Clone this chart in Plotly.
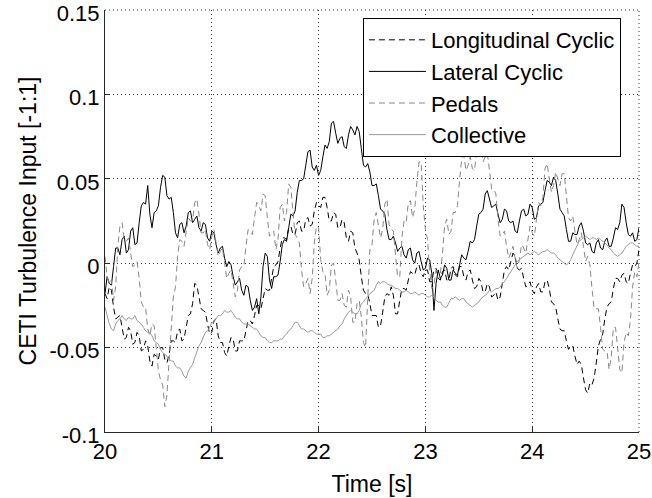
import plotly.graph_objects as go

# Sample times (uniform 0.02 s sampling grid of the recorded signals)
TIME = [round(20 + 0.02 * i, 2) for i in range(251)]

LONGITUDINAL = [
    -0.018, -0.021, -0.014, -0.016, -0.026, -0.033, -0.032, -0.031, -0.038, -0.045,
    -0.044, -0.038, -0.040, -0.048, -0.047, -0.041, -0.043, -0.052, -0.051, -0.046,
    -0.049, -0.058, -0.061, -0.054, -0.055, -0.057, -0.050, -0.050, -0.057, -0.059,
    -0.054, -0.046, -0.046, -0.047, -0.040, -0.039, -0.046, -0.045, -0.038, -0.031,
    -0.030, -0.024, -0.012, -0.013, -0.020, -0.027, -0.028, -0.029, -0.036, -0.042,
    -0.041, -0.034, -0.033, -0.043, -0.047, -0.047, -0.053, -0.055, -0.049, -0.044,
    -0.045, -0.052, -0.052, -0.046, -0.046, -0.046, -0.040, -0.034, -0.034, -0.036,
    -0.031, -0.025, -0.025, -0.027, -0.021, -0.015, -0.016, -0.016, -0.009, -0.002,
    -0.001, 0.001, 0.009, 0.015, 0.015, 0.014, 0.021, 0.022, 0.017, 0.017,
    0.024, 0.025, 0.019, 0.019, 0.026, 0.027, 0.022, 0.023, 0.031, 0.036,
    0.034, 0.033, 0.039, 0.039, 0.033, 0.025, 0.025, 0.030, 0.029, 0.021,
    0.021, 0.026, 0.024, 0.015, 0.013, 0.019, 0.018, 0.009, 0.006, 0.002,
    -0.008, -0.016, -0.018, -0.018, -0.024, -0.031, -0.031, -0.031, -0.038, -0.037,
    -0.029, -0.020, -0.018, -0.019, -0.014, -0.019, -0.030, -0.030, -0.022, -0.015,
    -0.015, -0.016, -0.010, -0.005, -0.006, -0.007, -0.002, -0.001, -0.006, -0.008,
    -0.004, -0.004, -0.011, -0.011, -0.004, -0.003, -0.009, -0.010, -0.005, -0.004,
    -0.010, -0.010, -0.003, -0.002, -0.007, -0.008, -0.002, -0.002, -0.008, -0.010,
    -0.005, -0.004, -0.010, -0.015, -0.014, -0.009, -0.011, -0.017, -0.017, -0.012,
    -0.014, -0.020, -0.019, -0.017, -0.022, -0.020, -0.012, -0.004, -0.002, -0.004,
    0.001, 0.006, 0.004, -0.003, -0.004, -0.003, -0.009, -0.014, -0.013, -0.011,
    -0.016, -0.018, -0.014, -0.012, -0.017, -0.017, -0.011, -0.010, -0.015, -0.023,
    -0.024, -0.026, -0.033, -0.039, -0.040, -0.040, -0.046, -0.051, -0.050, -0.049,
    -0.055, -0.060, -0.058, -0.060, -0.068, -0.075, -0.077, -0.071, -0.072, -0.068,
    -0.059, -0.049, -0.045, -0.042, -0.033, -0.026, -0.024, -0.023, -0.015, -0.009,
    -0.009, -0.011, -0.007, -0.006, -0.011, -0.012, -0.006, -0.001, -0.002, 0.000,
    0.008]

LATERAL = [
    -0.018, -0.008, -0.012, -0.013, -0.002, 0.009, 0.009, 0.005, 0.014, 0.016,
    0.006, 0.008, 0.019, 0.021, 0.011, 0.012, 0.024, 0.034, 0.036, 0.035,
    0.046, 0.029, 0.021, 0.030, 0.031, 0.034, 0.045, 0.052, 0.051, 0.040,
    0.038, 0.039, 0.030, 0.018, 0.015, 0.023, 0.024, 0.018, 0.022, 0.030,
    0.031, 0.024, 0.026, 0.028, 0.021, 0.019, 0.024, 0.023, 0.015, 0.013,
    0.019, 0.018, 0.011, 0.006, 0.009, 0.010, 0.003, -0.002, 0.001, -0.001,
    -0.008, -0.013, -0.011, -0.009, -0.016, -0.019, -0.013, -0.014, -0.022, -0.028,
    -0.026, -0.021, -0.030, -0.020, -0.002, 0.006, 0.004, -0.010, -0.015, -0.008,
    -0.008, -0.007, 0.001, 0.011, 0.014, 0.013, 0.021, 0.029, 0.028, 0.031,
    0.042, 0.049, 0.049, 0.050, 0.058, 0.066, 0.067, 0.057, 0.055, 0.058,
    0.052, 0.055, 0.063, 0.070, 0.068, 0.072, 0.083, 0.084, 0.077, 0.071,
    0.074, 0.075, 0.069, 0.068, 0.076, 0.081, 0.079, 0.076, 0.081, 0.078,
    0.068, 0.058, 0.057, 0.059, 0.054, 0.046, 0.046, 0.047, 0.040, 0.032,
    0.031, 0.029, 0.020, 0.014, 0.014, 0.016, 0.012, 0.007, 0.009, 0.010,
    0.005, 0.003, 0.008, 0.009, 0.002, 0.000, 0.006, 0.007, 0.001, -0.004,
    -0.003, 0.003, 0.002, -0.006, -0.028, -0.012, -0.004, -0.009, -0.007, -0.001,
    -0.003, -0.010, -0.010, -0.004, -0.006, -0.007, -0.001, 0.005, 0.003, 0.002,
    0.007, 0.013, 0.012, 0.014, 0.022, 0.029, 0.030, 0.032, 0.041, 0.043,
    0.038, 0.033, 0.034, 0.035, 0.029, 0.024, 0.026, 0.032, 0.031, 0.025,
    0.024, 0.025, 0.019, 0.018, 0.025, 0.031, 0.032, 0.028, 0.029, 0.035,
    0.033, 0.026, 0.027, 0.034, 0.035, 0.036, 0.043, 0.049, 0.048, 0.046,
    0.051, 0.049, 0.041, 0.032, 0.030, 0.028, 0.020, 0.013, 0.013, 0.018,
    0.017, 0.017, 0.022, 0.024, 0.019, 0.012, 0.011, 0.012, 0.007, 0.006,
    0.012, 0.014, 0.009, 0.008, 0.013, 0.015, 0.010, 0.010, 0.015, 0.021,
    0.020, 0.024, 0.035, 0.033, 0.024, 0.017, 0.016, 0.018, 0.013, 0.014,
    0.021]

PEDALS = [
    0.004, -0.008, -0.012, -0.010, -0.022, -0.014, 0.010, 0.022, 0.024, 0.014,
    0.013, 0.015, 0.006, -0.002, -0.001, 0.001, -0.009, -0.023, -0.026, -0.026,
    -0.039, -0.043, -0.036, -0.037, -0.050, -0.064, -0.069, -0.072, -0.085, -0.078,
    -0.058, -0.035, -0.020, -0.014, 0.004, 0.014, 0.013, 0.010, 0.018, 0.027,
    0.025, 0.025, 0.036, 0.038, 0.029, 0.018, 0.018, 0.020, 0.011, 0.008,
    0.016, 0.020, 0.012, 0.004, 0.007, 0.009, 0.000, -0.009, -0.006, -0.004,
    -0.012, -0.020, -0.016, -0.004, -0.002, -0.002, 0.010, 0.020, 0.019, 0.017,
    0.027, 0.036, 0.034, 0.031, 0.041, 0.040, 0.027, 0.016, 0.018, 0.019,
    0.008, 0.014, 0.033, 0.035, 0.025, 0.030, 0.047, 0.045, 0.030, 0.017,
    0.015, 0.012, -0.004, -0.014, -0.012, -0.009, -0.018, -0.009, 0.012, 0.022,
    0.021, 0.002, -0.005, -0.006, -0.019, -0.016, -0.001, 0.000, -0.010, -0.022,
    -0.022, -0.018, -0.025, -0.026, -0.016, -0.020, -0.035, -0.035, -0.024, -0.022,
    -0.032, -0.047, -0.050, -0.015, 0.008, 0.011, 0.026, 0.030, 0.022, 0.015,
    0.020, 0.035, 0.038, 0.023, 0.020, 0.019, 0.005, -0.008, -0.008, 0.015,
    0.025, 0.024, 0.036, 0.037, 0.027, 0.032, 0.048, 0.060, 0.060, 0.034,
    0.020, 0.014, -0.005, -0.015, -0.013, -0.004, -0.006, -0.006, 0.006, 0.022,
    0.026, 0.017, 0.019, 0.030, 0.030, 0.034, 0.049, 0.062, 0.064, 0.055,
    0.058, 0.063, 0.056, 0.055, 0.066, 0.073, 0.068, 0.060, 0.063, 0.065,
    0.055, 0.044, 0.044, 0.041, 0.026, 0.016, 0.017, 0.019, 0.010, 0.003,
    0.006, 0.010, 0.003, -0.003, 0.002, 0.011, 0.009, 0.006, 0.014, 0.022,
    0.018, 0.016, 0.026, 0.036, 0.034, 0.039, 0.056, 0.059, 0.050, 0.042,
    0.046, 0.054, 0.050, 0.046, 0.053, 0.053, 0.040, 0.027, 0.025, 0.028,
    0.019, 0.011, 0.014, 0.018, 0.010, 0.001, 0.004, -0.001, -0.015, -0.027,
    -0.027, -0.027, -0.038, -0.051, -0.052, -0.052, -0.063, -0.056, -0.038, -0.038,
    -0.050, -0.063, -0.065, -0.047, -0.041, -0.043, -0.034, -0.014, -0.005, -0.008,
    0.000]

COLLECTIVE = [
    -0.026, -0.032, -0.036, -0.039, -0.040, -0.036, -0.034, -0.033, -0.031, -0.033,
    -0.034, -0.032, -0.033, -0.033, -0.031, -0.034, -0.035, -0.036, -0.038, -0.040,
    -0.041, -0.041, -0.043, -0.046, -0.047, -0.048, -0.051, -0.053, -0.054, -0.055,
    -0.057, -0.058, -0.058, -0.061, -0.062, -0.062, -0.064, -0.067, -0.068, -0.064,
    -0.062, -0.060, -0.056, -0.052, -0.049, -0.047, -0.044, -0.041, -0.040, -0.038,
    -0.035, -0.035, -0.033, -0.031, -0.031, -0.030, -0.028, -0.029, -0.029, -0.028,
    -0.030, -0.032, -0.033, -0.033, -0.035, -0.036, -0.036, -0.036, -0.037, -0.038,
    -0.039, -0.039, -0.041, -0.043, -0.044, -0.044, -0.046, -0.047, -0.047, -0.046,
    -0.046, -0.046, -0.045, -0.045, -0.043, -0.042, -0.040, -0.039, -0.037, -0.035,
    -0.035, -0.037, -0.039, -0.039, -0.040, -0.041, -0.040, -0.040, -0.041, -0.042,
    -0.042, -0.042, -0.044, -0.044, -0.043, -0.043, -0.042, -0.041, -0.040, -0.039,
    -0.037, -0.036, -0.033, -0.031, -0.029, -0.028, -0.029, -0.030, -0.030, -0.028,
    -0.024, -0.023, -0.021, -0.020, -0.018, -0.017, -0.016, -0.013, -0.011, -0.012,
    -0.011, -0.011, -0.012, -0.013, -0.013, -0.014, -0.015, -0.015, -0.016, -0.017,
    -0.017, -0.016, -0.017, -0.018, -0.018, -0.017, -0.018, -0.019, -0.018, -0.018,
    -0.019, -0.020, -0.020, -0.019, -0.020, -0.022, -0.023, -0.023, -0.025, -0.026,
    -0.026, -0.023, -0.021, -0.021, -0.020, -0.021, -0.022, -0.021, -0.021, -0.023,
    -0.024, -0.025, -0.026, -0.025, -0.024, -0.023, -0.021, -0.020, -0.019, -0.018,
    -0.016, -0.017, -0.016, -0.015, -0.015, -0.014, -0.012, -0.011, -0.009, -0.007,
    -0.005, -0.003, -0.001, 0.001, 0.002, 0.003, 0.004, 0.005, 0.006, 0.005,
    0.006, 0.007, 0.006, 0.005, 0.006, 0.007, 0.007, 0.008, 0.007, 0.006,
    0.006, 0.005, 0.003, 0.002, 0.001, 0.000, -0.001, 0.000, 0.002, 0.005,
    0.008, 0.011, 0.013, 0.014, 0.015, 0.016, 0.015, 0.014, 0.015, 0.015,
    0.014, 0.015, 0.014, 0.013, 0.012, 0.011, 0.009, 0.008, 0.006, 0.005,
    0.004, 0.005, 0.006, 0.008, 0.010, 0.011, 0.012, 0.012, 0.011, 0.010,
    0.010]

X_TICKS = [20, 21, 22, 23, 24, 25]
Y_TICKS = [-0.1, -0.05, 0, 0.05, 0.1, 0.15]
Y_TICK_TEXT = ["-0.1", "-0.05", "0", "0.05", "0.1", "0.15"]

for arr in (LONGITUDINAL, LATERAL, PEDALS, COLLECTIVE):
    assert len(arr) == len(TIME), len(arr)

FONT = "Arial, Liberation Sans, Helvetica, sans-serif"
FS = 23
TICK_FS = 22

series = [
    ("Longitudinal Cyclic", LONGITUDINAL, "#000000", "6px,4px"),
    ("Lateral Cyclic", LATERAL, "#000000", "solid"),
    ("Pedals", PEDALS, "#878787", "6px,4px"),
    ("Collective", COLLECTIVE, "#9a9a9a", "solid"),
]

fig = go.Figure()
for name, vals, color, dash in series:
    fig.add_trace(go.Scatter(x=TIME, y=vals, mode="lines", name=name,
                             line=dict(color=color, width=1, dash=dash)))

axis_common = dict(
    showline=True, linecolor="#262626", linewidth=1,
    showgrid=True, gridcolor="#333333", gridwidth=1, griddash="1px,3px",
    zeroline=False, ticks="inside", ticklen=5, tickcolor="#262626",
    tickfont=dict(family=FONT, size=TICK_FS, color="black"),
    mirror=False, automargin=False, ticklabeloverflow="allow",
)

# dotted frame on the open (top / right) sides, like the grid
frame_dot = dict(color="#333333", width=1, dash="1px,3px")
shapes = [
    dict(type="line", xref="paper", yref="paper", x0=0, x1=1, y0=1, y1=1, line=frame_dot, layer="below"),
    dict(type="line", xref="paper", yref="paper", x0=1, x1=1, y0=0, y1=1, line=frame_dot, layer="below"),
]

fig.update_layout(
    template="none",
    width=652, height=498,
    margin=dict(l=105, r=13, t=10, b=66, pad=0),
    paper_bgcolor="white", plot_bgcolor="white",
    font=dict(family=FONT, size=FS, color="black"),
    xaxis=dict(range=[19.99999, 25.00001], tickvals=X_TICKS, ticktext=[str(v) for v in X_TICKS],
               title=dict(text="Time [s]", font=dict(family=FONT, size=FS), standoff=12),
               **axis_common),
    yaxis=dict(range=[-0.100001, 0.150001], tickvals=Y_TICKS, ticktext=Y_TICK_TEXT,
               ticklabelshift=3,
               title=dict(text="CETI Turbulence Input [-1:1]", font=dict(family=FONT, size=FS), standoff=6),
               **axis_common),
    legend=dict(x=0.483, y=0.981, xanchor="left", yanchor="top",
                bgcolor="white", bordercolor="black", borderwidth=1,
                font=dict(family=FONT, size=22, color="black"),
                itemwidth=57, tracegroupgap=0),
    shapes=shapes,
    showlegend=True,
)

fig.write_html("out.html", config={"displayModeBar": False},
               post_script="document.body.style.margin='0';document.body.style.overflow='hidden';")
